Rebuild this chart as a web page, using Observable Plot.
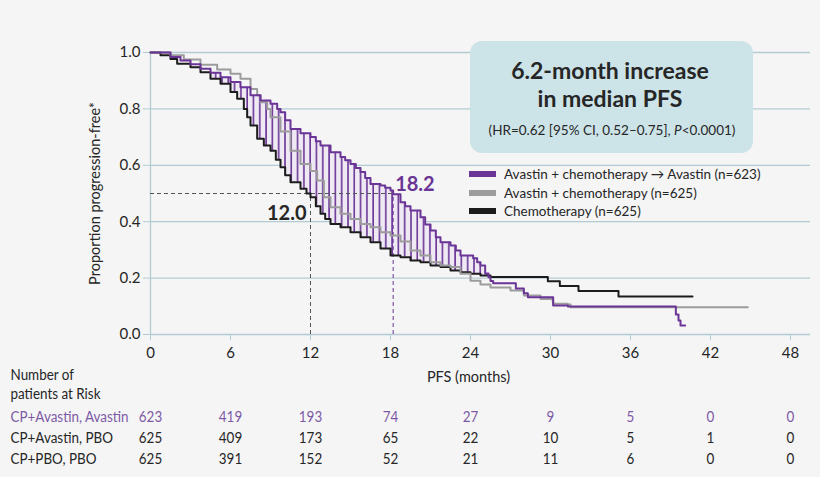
<!DOCTYPE html>
<html><head><meta charset="utf-8">
<script src="https://cdn.jsdelivr.net/npm/d3@7"></script>
<script src="https://cdn.jsdelivr.net/npm/@observablehq/plot@0.6"></script>
<style>
html,body{margin:0;padding:0;background:#f5f5f5;}
#chart{width:820px;height:477px;}
</style></head><body><div id="chart"></div>
<script>
// ---- Kaplan–Meier step data (month, proportion) ----
const purpleT = [0,1.5,2.25,3.0,3.75,4.5,5.25,6.0,6.75,7.5,8.25,9.0,9.5,9.75,10.1,10.5,11.25,12.0,12.4,12.75,13.5,14.25,14.6,15.0,15.4,15.75,16.1,16.5,17.25,17.6,18.0,18.2,18.75,19.1,19.5,20.25,20.6,21.0,21.4,21.75,22.5,22.9,23.25,24.2,24.5,24.75,25.1,25.35,25.5,25.7,27.4,28.0,28.3,30.2,31.3,39.4,39.6,39.75,40.1];
const purpleS = [1.0,0.984,0.972,0.958,0.942,0.928,0.912,0.895,0.877,0.848,0.83,0.818,0.80,0.788,0.76,0.729,0.714,0.70,0.685,0.67,0.646,0.629,0.618,0.605,0.59,0.576,0.555,0.534,0.528,0.52,0.511,0.497,0.469,0.455,0.44,0.416,0.39,0.369,0.345,0.327,0.316,0.298,0.28,0.27,0.256,0.245,0.216,0.203,0.19,0.182,0.163,0.146,0.132,0.103,0.099,0.071,0.05,0.032,0.032];

const grayT = [0,1.5,2.5,3.75,5.0,6.0,6.75,7.5,8.0,8.25,8.75,9.0,9.75,10.5,11.25,12.0,12.5,13.0,13.5,14.25,15.0,15.75,16.5,17.25,18.0,18.75,19.5,20.25,21.0,21.75,22.5,23.25,24.0,24.75,25.5,27.0,28.0,29.25,30.15,30.2,31.3,31.5,44.8];
const grayS = [1.0,0.99,0.975,0.957,0.94,0.925,0.907,0.871,0.848,0.824,0.80,0.77,0.72,0.652,0.605,0.58,0.546,0.487,0.451,0.428,0.41,0.392,0.38,0.363,0.351,0.33,0.298,0.28,0.256,0.245,0.239,0.215,0.191,0.177,0.167,0.156,0.138,0.126,0.12,0.109,0.106,0.097,0.097];

const blackT = [0,0.75,1.5,2.0,3.0,3.75,4.5,5.25,6.0,6.5,7.0,7.25,7.5,8.0,8.5,9.0,9.4,9.75,10.1,10.5,11.25,11.7,12.0,12.4,12.75,13.1,13.5,14.25,15.0,15.75,16.5,17.25,18.0,18.75,19.5,20.25,21.0,21.75,22.5,23.25,24.0,24.75,25.5,29.8,30.7,32.1,35.1,40.65];
const blackS = [1.0,0.99,0.977,0.96,0.948,0.93,0.907,0.889,0.86,0.836,0.80,0.77,0.741,0.694,0.67,0.652,0.62,0.593,0.565,0.54,0.517,0.50,0.487,0.455,0.428,0.41,0.392,0.38,0.363,0.345,0.327,0.305,0.28,0.274,0.262,0.256,0.245,0.239,0.227,0.221,0.215,0.209,0.204,0.189,0.172,0.154,0.135,0.135];

// ---- Risk table ----
const riskTimes = [0,6,12,18,24,30,36,42,48];
const riskPurple = [623,419,193,74,27,9,5,0,0];
const riskGray = [625,409,173,65,22,10,5,1,0];
const riskBlack = [625,391,152,52,21,11,6,0,0];
const riskLabels = ["CP+Avastin, Avastin","CP+Avastin, PBO","CP+PBO, PBO"];
const riskHeader = ["Number of","patients at Risk"];

const xTicks = [0,6,12,18,24,30,36,42,48];
const yTicks = [0,0.2,0.4,0.6,0.8,1.0];
const medianControl = 12.0, medianBev = 18.2;
const hatchStart = 4.6;

const legendLabels = ["Avastin + chemotherapy \u2192 Avastin (n=623)","Avastin + chemotherapy (n=625)","Chemotherapy (n=625)"];
const boxTitle = ["6.2-month increase","in median PFS"];

const C = {purple:"#6a3596", gray:"#9c9c9c", black:"#1c1c1c", grid:"#b3ccd4", riskPurple:"#7d5aa6", text:"#262626"};

const toRows = (T,S) => T.map((t,i)=>({t, s:S[i]}));
function stepAt(T,S,t){let v=S[0];for(let i=0;i<T.length;i++){if(T[i]<=t)v=S[i];else break;}return v;}

// band between chemo-only (black) and bevacizumab-throughout (purple)
const bandT = Array.from(new Set([hatchStart,...purpleT,...blackT])).filter(t=>t>=hatchStart).sort((a,b)=>a-b);
const band = [];
for (const t of bandT){
  const p = stepAt(purpleT,purpleS,t), b = stepAt(blackT,blackS,t);
  if (p <= b){ band.push({t, lo:b, hi:b}); break; }
  band.push({t, lo:b, hi:p});
}

const riskSeries = [riskPurple,riskGray,riskBlack];
const riskFill = [C.riskPurple, C.text, C.text];
const rowDy = [87, 108, 129];
const headerDy = [45, 64];

const font = "Lato, 'Open Sans', sans-serif";
const riskFont = "Lato, sans-serif";
const condense = 0.84;

const riskMarks = [];
riskSeries.forEach((arr,r)=>{
  riskMarks.push(Plot.text(arr.map((n,i)=>({t:riskTimes[i], n})), {x:"t", text:"n", frameAnchor:"bottom", textAnchor:"middle", dy:rowDy[r], fontFamily:riskFont, fontSize:16, fill:riskFill[r], className:"risk"}));
  riskMarks.push(Plot.text([riskLabels[r]], {frameAnchor:"bottom-left", dx:-140, dy:rowDy[r], textAnchor:"start", fontFamily:riskFont, fontSize:16, fill:riskFill[r], className:"risk"}));
});
riskHeader.forEach((h,i)=>riskMarks.push(Plot.text([h], {frameAnchor:"bottom-left", dx:-140, dy:headerDy[i], textAnchor:"start", fontFamily:riskFont, fontSize:16, fill:C.text, className:"risk"})));

const svg = Plot.plot({
  width:820, height:477,
  marginLeft:150, marginRight:10, marginTop:52, marginBottom:143,
  style:{background:"#f5f5f5", fontFamily:font, fontSize:"14px", color:C.text, overflow:"visible"},
  x:{domain:[0,49.5]},
  y:{domain:[0,1]},
  marks:[
    Plot.ruleY(yTicks.filter(v=>v>0), {x1:0, x2:49.5, stroke:C.grid, strokeWidth:1.3}),
    Plot.ruleY([0], {x1:0, x2:49.5, stroke:C.grid, strokeWidth:1.3}),
    Plot.ruleX([0], {y1:0, y2:1, stroke:C.grid, strokeWidth:1.3}),
    Plot.axisX({ticks:xTicks, tickSize:6, tickPadding:7, stroke:C.grid, fill:C.text, label:null, tickFormat:d=>String(d), fontSize:15}),
    Plot.axisY({ticks:yTicks, tickSize:7, tickPadding:3, stroke:C.grid, fill:C.text, label:null, tickFormat:d3.format(".1f"), fontSize:15}),
    Plot.text(["Proportion progression-free*"], {frameAnchor:"left", textAnchor:"middle", dx:-55, rotate:-90, fontSize:14.5, fill:C.text}),
    Plot.text(["PFS (months)"], {frameAnchor:"bottom", textAnchor:"middle", dy:47, dx:-12, fontSize:14.5, fill:C.text}),
    // shaded/hatched benefit region
    Plot.areaY(band, {x:"t", y1:"lo", y2:"hi", curve:"step-after", fill:"url(#hatch)"}),
    // median guides
    Plot.ruleY([0.5], {x1:0, x2:medianBev, stroke:"#555", strokeWidth:1, strokeDasharray:"4,3"}),
    Plot.ruleX([medianControl], {y1:0, y2:0.5, stroke:"#555", strokeWidth:1, strokeDasharray:"4,3"}),
    Plot.ruleX([medianBev], {y1:0, y2:0.5, stroke:C.purple, strokeWidth:1, strokeDasharray:"4,3"}),
    // curves
    Plot.line(toRows(blackT,blackS), {x:"t", y:"s", curve:"step-after", stroke:C.black, strokeWidth:2}),
    Plot.line(toRows(grayT,grayS), {x:"t", y:"s", curve:"step-after", stroke:C.gray, strokeWidth:2}),
    Plot.line(toRows(purpleT,purpleS), {x:"t", y:"s", curve:"step-after", stroke:C.purple, strokeWidth:2}),
    // median labels
    Plot.text([medianControl], {x:d=>d, y:0.43, text:d=>d.toFixed(1), textAnchor:"end", dx:-4, fontSize:20, fontWeight:"bold", fill:C.text}),
    Plot.text([medianBev], {x:d=>d, y:0.53, text:d=>d.toFixed(1), textAnchor:"start", dx:2, fontSize:20, fontWeight:"bold", fill:C.purple}),
    ...riskMarks
  ]
});

const s = d3.select(svg);
// condensed look for the risk table (no narrow font installed)
s.selectAll("g.risk text").each(function(){
  const tr = this.getAttribute("transform");
  if (tr) this.setAttribute("transform", tr + ` scale(${condense},1)`);
  else {
    const x = +(this.getAttribute("x")||0), y = +(this.getAttribute("y")||0);
    this.setAttribute("transform", `translate(${x},${y}) scale(${condense},1)`);
    this.removeAttribute("x"); this.removeAttribute("y");
  }
});

const defs = s.insert("defs", ":first-child");
const pat = defs.append("pattern").attr("id","hatch").attr("patternUnits","userSpaceOnUse").attr("width",6.3).attr("height",10).attr("x",0.5);
pat.append("rect").attr("width",6.3).attr("height",10).attr("fill","#efe9f4");
pat.append("line").attr("x1",1).attr("x2",1).attr("y1",0).attr("y2",10).attr("stroke",C.purple).attr("stroke-width",1.6);

// annotation box
const g = s.append("g").attr("font-family", font);
g.append("rect").attr("x",470).attr("y",41).attr("width",283).attr("height",112).attr("rx",12).attr("fill","#cce3e8");
boxTitle.forEach((t,i)=>g.append("text").attr("x",610).attr("y",[79,107][i]).attr("text-anchor","middle").attr("font-size",23).attr("font-weight","bold").attr("fill",C.text).text(t));
const sub = g.append("text").attr("x",612).attr("y",135).attr("text-anchor","middle").attr("font-size",13.5).attr("fill",C.text);
sub.append("tspan").text("(HR=0.62 [95% CI, 0.52\u20130.75], ");
sub.append("tspan").attr("font-style","italic").text("P");
sub.append("tspan").text("<0.0001)");

// legend
const legColors = [C.purple, C.gray, C.black];
legendLabels.forEach((t,i)=>{
  const y = [174,193,211][i];
  g.append("rect").attr("x",469).attr("y",y-3).attr("width",27).attr("height",6).attr("fill",legColors[i]);
  g.append("text").attr("x",504).attr("y",y).attr("dy","0.35em").attr("text-anchor","start").attr("font-size",13.5).attr("fill",C.text).text(t);
});

document.getElementById("chart").appendChild(svg);
</script>
</body></html>
